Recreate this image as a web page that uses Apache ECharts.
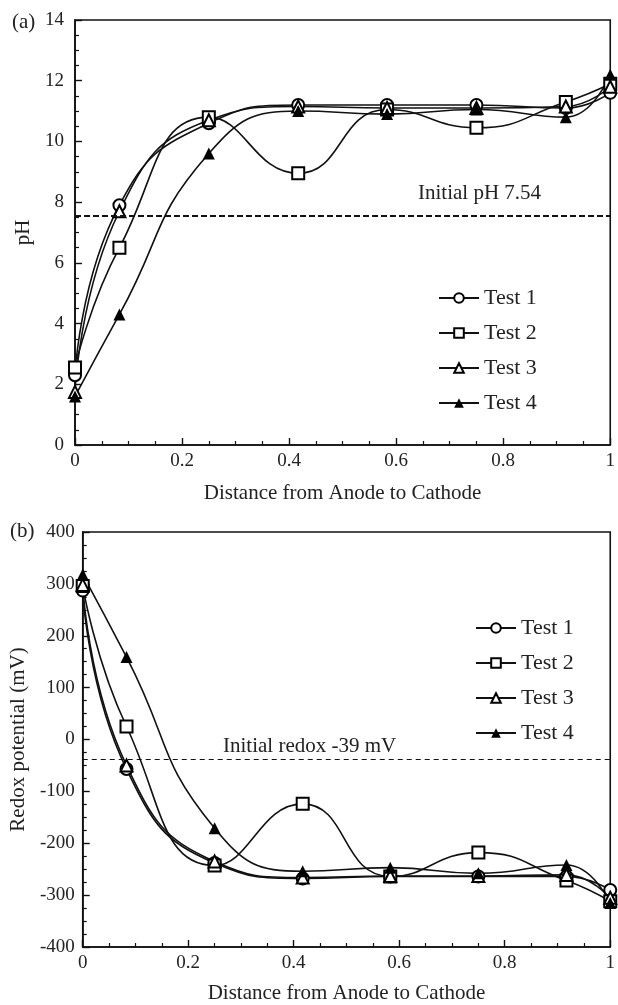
<!DOCTYPE html>
<html>
<head>
<meta charset="utf-8">
<script src="https://cdn.jsdelivr.net/npm/echarts@6/dist/echarts.min.js"></script>
<style>
  html, body { margin: 0; padding: 0; background: #fff; overflow: hidden; }
  #main { width: 618px; height: 1005px; }
</style>
</head>
<body>
<div id="main"></div>
<script>
// distance from anode (0) to cathode (1)
var distance = [0, 0.083, 0.25, 0.417, 0.583, 0.75, 0.917, 1];

// (a) pH
var ph1 = [2.3, 7.9, 10.6, 11.2, 11.2, 11.2, 11.1, 11.6];
var ph2 = [2.55, 6.5, 10.8, 8.95, 11.05, 10.45, 11.3, 11.9];
var ph3 = [1.75, 7.7, 10.7, 11.15, 11.1, 11.1, 11.15, 11.8];
var ph4 = [1.6, 4.3, 9.6, 11.0, 10.9, 11.05, 10.8, 12.2];
var initialPH = 7.54;

// (b) redox potential, mV
var redox1 = [287, -57, -238, -268, -264, -264, -264, -290];
var redox2 = [296, 25, -243, -124, -264, -218, -272, -312];
var redox3 = [298, -50, -235, -266, -263, -263, -261, -305];
var redox4 = [318, 159, -171, -254, -247, -258, -242, -315];
var initialRedox = -39;

var testNames = ['Test 1', 'Test 2', 'Test 3', 'Test 4'];
var symbols = ['emptyCircle', 'emptyRect', 'emptyTriangle', 'triangle'];

var FONT = 'Liberation Serif';

function pairs(ys) {
    return distance.map(function (x, i) { return [x, ys[i]]; });
}

function makeSeries(idx, ys, k, mark) {
    var s = {
        name: testNames[k],
        type: 'line',
        xAxisIndex: idx,
        yAxisIndex: idx,
        data: pairs(ys),
        smooth: 0.5,
        symbol: symbols[k],
        symbolSize: 12,
        color: '#000',
        itemStyle: { color: '#000', borderWidth: 1.3 },
        lineStyle: { color: '#111', width: 1.6 },
        z: 3
    };
    if (mark) s.markLine = mark;
    return s;
}

function xAxisOf(idx, gap) {
    return {
        gridIndex: idx, type: 'value', min: 0, max: 1, interval: 0.2,
        name: 'Distance from Anode to Cathode', nameLocation: 'middle', nameGap: gap,
        nameTextStyle: { fontFamily: FONT, fontSize: 21, color: '#222' },
        axisLine: { onZero: false, lineStyle: { color: '#111', width: 1.6 } },
        axisTick: { inside: true, length: 7, lineStyle: { color: '#111', width: 1.4 } },
        minorTick: { show: true, splitNumber: 4, length: 4, lineStyle: { color: '#111', width: 1.2 } },
        axisLabel: { margin: 7, fontFamily: FONT, fontSize: 19, color: '#222' },
        splitLine: { show: false }
    };
}

function yAxisOf(idx, min, max, interval, name, gap, margin) {
    return {
        gridIndex: idx, type: 'value', min: min, max: max, interval: interval,
        name: name, nameLocation: 'middle', nameGap: gap, nameRotate: 90,
        nameTextStyle: { fontFamily: FONT, fontSize: 21, color: '#222' },
        axisLine: { onZero: false, lineStyle: { color: '#111', width: 1.6 } },
        axisTick: { inside: true, length: 7, lineStyle: { color: '#111', width: 1.4 } },
        minorTick: { show: true, splitNumber: 4, length: 4, lineStyle: { color: '#111', width: 1.2 } },
        axisLabel: { margin: margin, fontFamily: FONT, fontSize: 19, color: '#222' },
        splitLine: { show: false }
    };
}

function legendOf(left, top) {
    return {
        data: testNames, orient: 'vertical', left: left, top: top,
        itemWidth: 40, itemHeight: 12, itemGap: 13,
        textStyle: { fontFamily: FONT, fontSize: 22, color: '#222', lineHeight: 22 }
    };
}

var phLine = {
    symbol: 'none', silent: true, label: { show: false },
    lineStyle: { color: '#111', type: [6, 3], width: 2 },
    data: [{ yAxis: initialPH }]
};
var redoxLine = {
    symbol: 'none', silent: true, label: { show: false },
    lineStyle: { color: '#111', type: [5, 4], width: 1.2 },
    data: [{ yAxis: initialRedox }]
};

var chart = echarts.init(document.getElementById('main'));
chart.setOption({
    backgroundColor: '#fff',
    animation: false,
    textStyle: { fontFamily: FONT },
    grid: [
        { left: 75, right: 5, top: 20, height: 425, show: true, borderColor: '#111', borderWidth: 1.6 },
        { left: 78, right: 3, top: 532, height: 423, show: true, borderColor: '#111', borderWidth: 1.6 }
    ],
    xAxis: [xAxisOf(0, 38), xAxisOf(1, 36)],
    yAxis: [
        yAxisOf(0, 0, 14, 2, 'pH', 30, 11),
        yAxisOf(1, -400, 400, 100, 'Redox potential (mV)', 50, 8)
    ],
    legend: [legendOf(433, 282), legendOf(470, 612)],
    graphic: [
        { type: 'text', left: 12, top: 12, style: { text: '(a)', font: '21px "Liberation Serif"', fill: '#222' } },
        { type: 'text', left: 10, top: 521, style: { text: '(b)', font: '21px "Liberation Serif"', fill: '#222' } },
        { type: 'text', left: 418, top: 183, style: { text: 'Initial pH ' + initialPH, font: '21px "Liberation Serif"', fill: '#222' } },
        { type: 'text', left: 223, top: 736, style: { text: 'Initial redox ' + initialRedox + ' mV', font: '21px "Liberation Serif"', fill: '#222' } }
    ],
    series: [
        makeSeries(0, ph1, 0, phLine),
        makeSeries(0, ph2, 1),
        makeSeries(0, ph3, 2),
        makeSeries(0, ph4, 3),
        makeSeries(1, redox1, 0, redoxLine),
        makeSeries(1, redox2, 1),
        makeSeries(1, redox3, 2),
        makeSeries(1, redox4, 3)
    ]
});
</script>
</body>
</html>
